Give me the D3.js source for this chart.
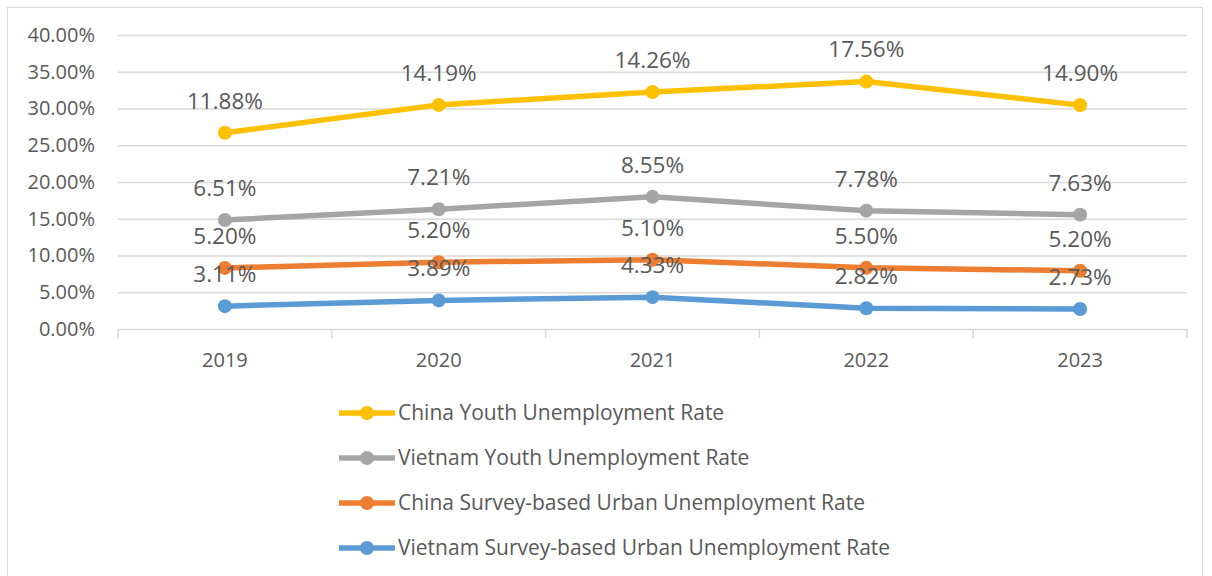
<!DOCTYPE html>
<html>
<head>
<meta charset="utf-8">
<script src="https://cdn.jsdelivr.net/npm/d3@7"></script>
<style>
  html, body { margin: 0; padding: 0; background: #fff; }
  svg { display: block; }
  text { font-family: "Open Sans", "Noto Sans", sans-serif; fill: #595959; }
</style>
</head>
<body>
<svg id="chart" width="1212" height="576"></svg>
<script>
// Years on the category axis
const years = ["2019", "2020", "2021", "2022", "2023"];

// Unemployment rates (%) per series
const vietnamUrban = [3.11, 3.89, 4.33, 2.82, 2.73];
const chinaUrban = [5.20, 5.20, 5.10, 5.50, 5.20];
const vietnamYouth = [6.51, 7.21, 8.55, 7.78, 7.63];
const chinaYouth = [11.88, 14.19, 14.26, 17.56, 14.90];

// Series names, stacked bottom to top
const seriesNames = [
  "Vietnam Survey-based Urban Unemployment Rate",
  "China Survey-based Urban Unemployment Rate",
  "Vietnam Youth Unemployment Rate",
  "China Youth Unemployment Rate"
];
const seriesValues = [vietnamUrban, chinaUrban, vietnamYouth, chinaYouth];
const seriesColors = ["#5B9BD5", "#ED7D31", "#A5A5A5", "#FFC000"];

// Legend lists the series top of stack first
const legendOrder = [3, 2, 1, 0];

// Value-axis ticks (%)
const yTicks = [0, 5, 10, 15, 20, 25, 30, 35, 40];

const svg = d3.select("#chart");

// Outer frame
svg.append("rect")
  .attr("x", 7.5).attr("y", 7.5)
  .attr("width", 1195).attr("height", 580)
  .attr("fill", "#fff").attr("stroke", "#D9D9D9").attr("stroke-width", 1);

const plot = { left: 118, right: 1187, top: 35, bottom: 329 };

const x = d3.scaleBand().domain(years).range([plot.left, plot.right]).padding(0);
const y = d3.scaleLinear().domain([0, 40]).range([plot.bottom, plot.top]);

// Table of rows for the stack layout
const rows = years.map((yr, i) => {
  const r = { year: yr };
  seriesNames.forEach((n, k) => { r[n] = seriesValues[k][i]; });
  return r;
});
const stacked = d3.stack().keys(seriesNames)(rows);

// Horizontal gridlines
svg.append("g")
  .selectAll("line")
  .data(yTicks.filter(t => t > 0))
  .join("line")
  .attr("x1", plot.left).attr("x2", plot.right)
  .attr("y1", d => y(d) + 0.5).attr("y2", d => y(d) + 0.5)
  .attr("stroke", "#D9D9D9").attr("stroke-width", 1.5);

// Value axis labels
const yAxis = d3.axisLeft(y).tickValues(yTicks)
  .tickFormat(d => d.toFixed(2) + "%").tickSize(0).tickPadding(0);
const yg = svg.append("g").attr("transform", `translate(${95},0)`).call(yAxis);
yg.select(".domain").remove();
yg.selectAll("text").attr("font-size", 20).attr("fill", "#595959")
  .attr("font-family", "\"Open Sans\", sans-serif");

// Category axis
const xAxis = d3.axisBottom(x).tickSize(0).tickPadding(0);
const xg = svg.append("g").attr("transform", `translate(0,${plot.bottom})`).call(xAxis);
xg.select(".domain").attr("stroke", "#D9D9D9").attr("stroke-width", 1.5)
  .attr("d", `M${plot.left},0.5H${plot.right}`);
xg.selectAll("text").attr("font-size", 20).attr("fill", "#595959")
  .attr("font-family", "\"Open Sans\", sans-serif")
  .attr("dy", null).attr("y", 38);
// Tick marks at category boundaries
const bounds = years.map(yr => x(yr)).concat([plot.right]);
xg.append("g").selectAll("line").data(bounds).join("line")
  .attr("x1", d => d).attr("x2", d => d)
  .attr("y1", 0).attr("y2", 9)
  .attr("stroke", "#D9D9D9").attr("stroke-width", 1.5);

const cx = d => x(d.data.year) + x.bandwidth() / 2;
const line = d3.line().x(cx).y(d => y(d[1]));

// Lines and markers
const layers = svg.append("g").selectAll("g").data(stacked).join("g");
layers.append("path")
  .attr("d", d => line(d))
  .attr("fill", "none")
  .attr("stroke", (d, i) => seriesColors[i])
  .attr("stroke-width", 5.5)
  .attr("stroke-linejoin", "round");
layers.selectAll("circle")
  .data(d => d)
  .join("circle")
  .attr("cx", cx)
  .attr("cy", d => y(d[1]))
  .attr("r", 7)
  .attr("fill", function () { return seriesColors[d3.select(this.parentNode).datum().index]; });

// Data labels show each series' own value above its point
const labels = svg.append("g");
stacked.forEach((layer, k) => {
  labels.selectAll(null)
    .data(layer)
    .join("text")
    .attr("x", cx)
    .attr("y", d => y(d[1]) - 32)
    .attr("dy", "0.35em")
    .attr("text-anchor", "middle")
    .attr("font-size", 22.5)
    .text((d, i) => seriesValues[k][i].toFixed(2) + "%");
});

// Legend
const legend = svg.append("g");
legendOrder.forEach((k, row) => {
  const ly = 413 + row * 45;
  const g = legend.append("g").attr("transform", `translate(0,${ly})`);
  g.append("line").attr("x1", 339).attr("x2", 395).attr("y1", 0).attr("y2", 0)
    .attr("stroke", seriesColors[k]).attr("stroke-width", 5.5);
  g.append("circle").attr("cx", 367).attr("cy", 0).attr("r", 7).attr("fill", seriesColors[k]);
  g.append("text").attr("x", 398).attr("y", 0).attr("dy", "0.35em")
    .attr("font-size", 21).text(seriesNames[k]);
});
</script>
</body>
</html>
